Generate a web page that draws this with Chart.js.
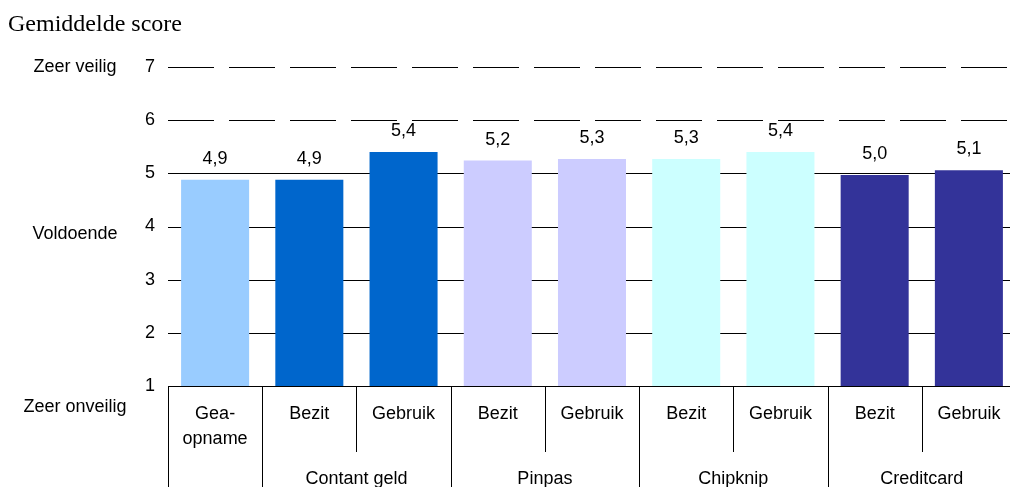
<!DOCTYPE html>
<html>
<head>
<meta charset="utf-8">
<script src="https://cdn.jsdelivr.net/npm/chart.js@4"></script>
<style>
  html, body { margin: 0; padding: 0; background: #fff; overflow: hidden; }
  #wrap { width: 1020px; height: 487px; position: relative; }
</style>
</head>
<body>
<div id="wrap"><canvas id="chart"></canvas></div>
<script>
/* globals Chart */

var titleText = 'Gemiddelde score'

// first row of the category axis
var categories = [['Gea-', 'opname'], ['Bezit'], ['Gebruik'], ['Bezit'], ['Gebruik'], ['Bezit'], ['Gebruik'], ['Bezit'], ['Gebruik']]

// second row: group name, first category index, number of categories
var groupNames = ['', 'Contant geld', 'Pinpas', 'Chipknip', 'Creditcard']
var groupStart = [0, 1, 3, 5, 7]
var groupSize = [1, 2, 2, 2, 2]

var scores = [4.88, 4.88, 5.40, 5.24, 5.27, 5.27, 5.40, 4.97, 5.06]
var barColors = ['#99ccff', '#0066cc', '#0066cc', '#ccccff', '#ccccff', '#ccffff', '#ccffff', '#333399', '#333399']

var yTicks = [1, 2, 3, 4, 5, 6, 7]
var dashedTicks = [6, 7]

// verbal labels on the far left, with the score they stand next to
var sideLabels = ['Zeer veilig', 'Voldoende', 'Zeer onveilig']
var sideLabelScores = [7, 3.86, 0.6]

var FONT = 'Liberation Sans, Arial, sans-serif'

var customDraw = {
  id: 'customDraw',
  beforeDatasetsDraw: function(chart) {
    var ctx = chart.ctx
    var area = chart.chartArea
    var y = chart.scales.y
    ctx.save()
    ctx.strokeStyle = '#000'
    ctx.lineWidth = 1
    yTicks.forEach(function(t) {
      if (t === 1) return
      var py = Math.round(y.getPixelForValue(t)) + 0.5
      ctx.setLineDash(dashedTicks.indexOf(t) >= 0 ? [46, 15] : [])
      ctx.beginPath()
      ctx.moveTo(area.left, py)
      ctx.lineTo(area.right, py)
      ctx.stroke()
    })
    ctx.restore()
  },
  afterDraw: function(chart) {
    var ctx = chart.ctx
    var area = chart.chartArea
    var x = chart.scales.x
    var y = chart.scales.y
    var w = (area.right - area.left) / categories.length
    var bottom = chart.height

    ctx.save()

    // title
    ctx.fillStyle = '#000'
    ctx.font = '24px Liberation Serif, Times New Roman, serif'
    ctx.textAlign = 'left'
    ctx.textBaseline = 'alphabetic'
    ctx.fillText(titleText, 8, 31)

    // verbal labels
    ctx.font = '18px ' + FONT
    ctx.textAlign = 'center'
    ctx.textBaseline = 'middle'
    sideLabels.forEach(function(l, i) {
      ctx.fillText(l, 75, y.getPixelForValue(sideLabelScores[i]))
    })

    // value labels above the bars
    var meta = chart.getDatasetMeta(0)
    ctx.textBaseline = 'alphabetic'
    meta.data.forEach(function(bar, i) {
      ctx.fillText(scores[i].toFixed(1).replace('.', ','), bar.x, bar.y - 16)
    })

    // category table
    ctx.strokeStyle = '#000'
    ctx.lineWidth = 1
    ctx.beginPath()
    ctx.moveTo(area.left, Math.round(area.bottom) + 0.5)
    ctx.lineTo(area.right, Math.round(area.bottom) + 0.5)
    ctx.stroke()
    for (var i = 0; i <= categories.length; i++) {
      var px = Math.round(area.left + i * w) + 0.5
      var full = groupStart.indexOf(i) >= 0 || i === categories.length
      ctx.beginPath()
      ctx.moveTo(px, area.bottom)
      ctx.lineTo(px, full ? bottom : area.bottom + 66)
      ctx.stroke()
    }

    categories.forEach(function(lines, i) {
      var cx = x.getPixelForValue(i)
      lines.forEach(function(line, j) {
        ctx.fillText(line, cx, area.bottom + 33 + j * 25)
      })
    })

    groupNames.forEach(function(name, g) {
      if (!name) return
      var cx = area.left + (groupStart[g] + groupSize[g] / 2) * w
      ctx.fillText(name, cx, area.bottom + 98)
    })

    ctx.restore()
  }
}

var data = {
  labels: categories.map(function(c) { return c.join(' ') }),
  datasets: [{
    data: scores,
    backgroundColor: barColors,
    borderWidth: 0,
    barPercentage: 0.722,
    categoryPercentage: 1
  }]
}

var config = {
  type: 'bar',
  data: data,
  options: {
    responsive: true,
    maintainAspectRatio: false,
    animation: false,
    layout: { padding: { top: 67, right: 4, bottom: 101, left: 0 } },
    plugins: {
      legend: { display: false },
      tooltip: { enabled: false }
    },
    scales: {
      x: {
        display: false
      },
      y: {
        min: 1,
        max: 7,
        afterFit: function(scale) { scale.width = 168 },
        ticks: {
          stepSize: 1,
          padding: 13,
          color: '#000',
          font: { family: FONT, size: 18 }
        },
        grid: { display: false, drawTicks: false },
        border: { display: false }
      }
    }
  },
  plugins: [customDraw]
}

var chart = new Chart(document.getElementById('chart'), config)
</script>
</body>
</html>
